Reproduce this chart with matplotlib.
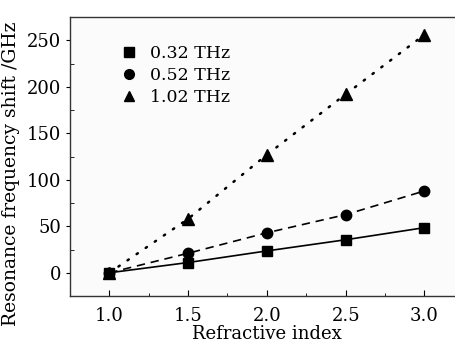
import matplotlib
matplotlib.use("Agg")
import matplotlib.pyplot as plt
from matplotlib.lines import Line2D
from matplotlib.ticker import MultipleLocator

plt.rcParams["font.family"] = "DejaVu Serif"

refractive_index = [1.0, 1.5, 2.0, 2.5, 3.0]
shift_032 = [0, 11, 23.5, 35.5, 48.5]
shift_052 = [0, 21, 43, 62.5, 88]
shift_102 = [0, 58, 127, 192, 256]
series_labels = ["0.32 THz", "0.52 THz", "1.02 THz"]

fig = plt.figure(figsize=(4.56, 3.42), dpi=100)
ax = fig.add_axes([0.1535, 0.1345, 0.8635, 0.8155])
ax.set_facecolor("#fbfbfb")

ax.plot(refractive_index, shift_032, "-", color="black", lw=1.2,
        marker="s", ms=7, zorder=3)
ax.plot(refractive_index, shift_052, color="black", lw=1.2, ls=(0, (5, 3.5)),
        marker="o", ms=7.5, zorder=3)
ax.plot(refractive_index, shift_102, color="black", lw=1.8, ls=(0, (0.6, 3.8)),
        dash_capstyle="round", marker="^", ms=8, zorder=3)

ax.set_xlim(0.75, 3.25)
ax.set_ylim(-25, 275)
ax.xaxis.set_major_locator(MultipleLocator(0.5))
ax.xaxis.set_minor_locator(MultipleLocator(0.25))
ax.yaxis.set_major_locator(MultipleLocator(50))
ax.yaxis.set_minor_locator(MultipleLocator(25))
ax.tick_params(axis="x", which="both", direction="in", labelsize=13, pad=8)
ax.tick_params(axis="x", which="major", length=4)
ax.tick_params(axis="x", which="minor", length=2.5)
ax.tick_params(axis="y", which="major", direction="out", length=3, labelsize=13)
ax.tick_params(axis="y", which="minor", direction="in", length=3)

for side in ax.spines.values():
    side.set_color("#333333")
    side.set_linewidth(1.0)

ax.set_xlabel("Refractive index", fontsize=13, labelpad=0)
ax.set_ylabel("Resonance frequency shift /GHz", fontsize=13.5)
# label sits a bit below the axes centre in the original
ax.yaxis.set_label_coords(-0.127, 0.44)

handles = [
    Line2D([], [], ls="none", marker="s", ms=6.5, color="black"),
    Line2D([], [], ls="none", marker="o", ms=7, color="black"),
    Line2D([], [], ls="none", marker="^", ms=7.5, color="black"),
]
ax.legend(handles, series_labels, loc="upper left", bbox_to_anchor=(0.115, 0.925),
          frameon=False, fontsize=12.5, handlelength=0.8, handletextpad=0.8,
          labelspacing=0.3, borderaxespad=0)

fig.savefig("out.png", dpi=100)
